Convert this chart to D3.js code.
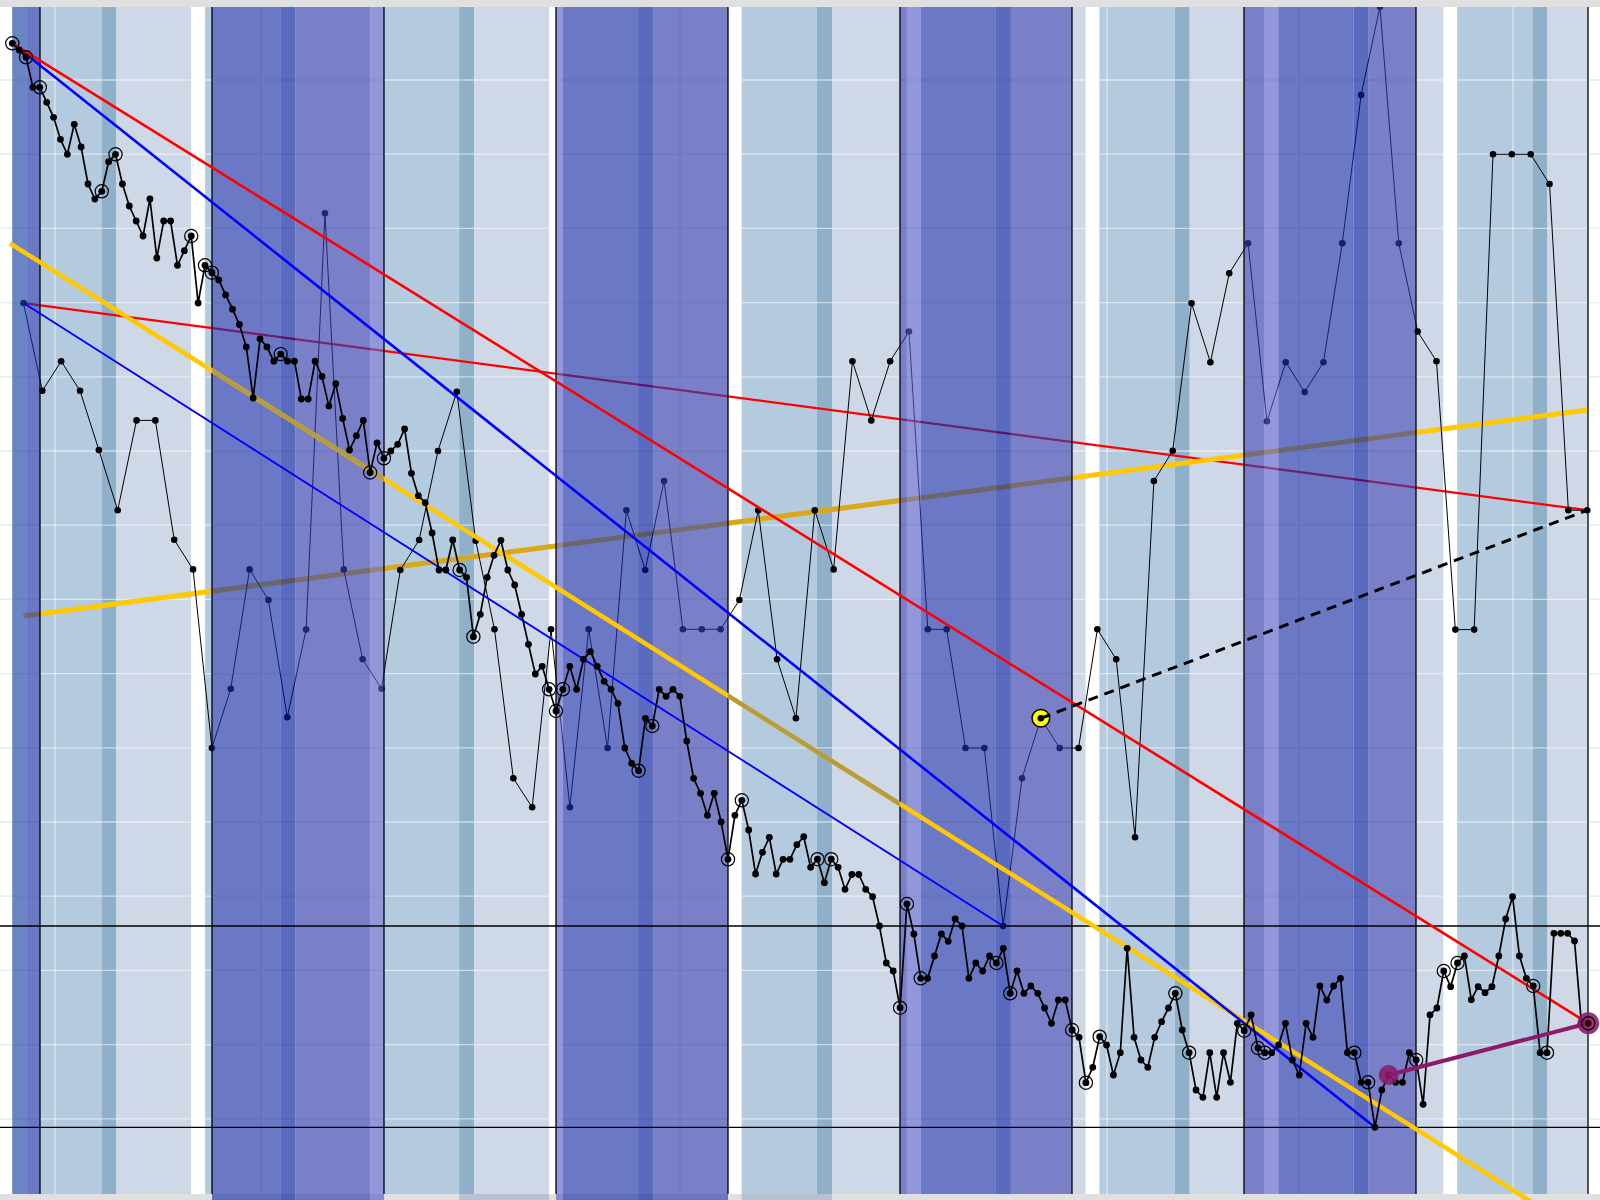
<!DOCTYPE html>
<html><head><meta charset="utf-8">
<script src="https://cdn.jsdelivr.net/npm/d3@7"></script>
<style>html,body{margin:0;padding:0;background:#fff;} svg{display:block;}</style>
</head><body>
<svg id="chart" width="1600" height="1200"></svg>
<script>
// ---------------- DATA ----------------
// main (hourly-like) price series, one value per bar
const mainValues = [
1156.7,1150,1142.7,1112.7,1112.7,1097.7,1082.7,1060.7,1045.7,1075.7,
1053,1016,1001,1008.7,1038.3,1045.7,1016,994,979,964,
1001,942,979,979,934.7,949.3,964,897,934.7,927.3,
920,905.1,890.8,875.5,853.1,802,861.2,853.1,838.8,845.9,
838.8,838.8,801,801,838.8,823.5,793.9,816.3,781.6,750,
764.3,779.6,727.5,757.1,741.7,749,755.7,771,726.7,704.3,
697.3,667,630,630,660,630,622.7,563.3,585.7,622.7,
644.7,659.7,630,615,585.7,555.7,526,533.7,510.7,489,
510.7,533.7,510.7,540.7,548.3,533.7,518.7,510.7,496.7,452,
436.7,429.3,481.7,474,510.7,503.7,510.7,503.7,459,421.7,
406.7,384.7,406.7,378,340.7,384.7,399.7,370,326,347.7,
362.7,326,340.7,340.7,355.3,363.3,332.7,340.8,317.3,340.8,
332.7,310.7,325.5,325.5,310.7,303.3,274,237,229,192.3,
296,266,221.7,221.7,244,266,258.7,281,274,221.7,
237,229,244,237,251.7,206.7,229,206.7,214,206.7,
192,176.7,200,200,170,162.7,117.3,132.7,163.3,155,
125,147.3,251.7,162.7,140,132.7,162.7,178.3,192,206.7,
170,147.3,110,102.7,147.3,102.7,147.3,117.7,176.7,169.3,
185,152,147.3,147.3,155,176.7,140,125,176.7,162.7,
214,200,214,221.7,147.3,147.3,117.7,117.7,72.7,110,
125,117.7,117.7,147.3,140,95.7,185,192,229,213.3,
237,244,200.3,213.3,207.3,213.3,244,281,303.3,244,
221.7,214,147.3,147.3,266.7,266.7,266.7,259,176.7,176.7];
// bars of the main series that carry a ring marker
const mainRinged = [0,2,4,13,15,26,28,29,39,52,54,65,67,78,79,80,91,93,104,106,117,119,129,130,132,143,145,154,156,158,169,171,179,181,182,195,197,204,208,210,221,223,229];
// slower (higher time-frame) series
const thinValues = [
896.9,809.2,838.8,809.2,750,689.8,779.6,779.6,660.2,630.6,
452,511.2,630.6,600,482.7,570.4,986.7,630.6,540.8,511.2,
630,660,749,808.3,659.3,570.7,421.7,392.7,570.7,392.7,
570.7,452,689.7,630,719,570.7,570.7,570.7,600,689.8,
540.7,481.7,689.8,630.6,838.8,779.6,838.8,868.4,570.7,570.7,
452,452,274,421.7,481.7,452,452,570.7,540.7,362.7,
719,749.3,896.7,837.7,926.7,956.7,778.7,837.7,808,837.7,
956.7,1105,1193.3,956.7,868.4,838.8,570.4,570.4,1045.7,1045.7,
1045.7,1016,689.8,689.8];
// sampling of the two series (hours)
const mainStartHour = -3.865, mainStepHours = 0.96028;
const thinStartHour = -2.302, thinStepHours = 2.6288;
// horizontal support levels
const levelValues = [274, 72.7];
// grid
const gridValues = [1120,1045.8,971.6,897.4,823.2,749,674.8,600.6,526.4,452.2,378,303.8,229.6,155.4,81.2];
const gridHours = [2.09,30.84,89.3,148.88,175.67,205.53];
// days and sessions
const dayStartHours = [-24,0,24,48,72,96,120,144,168,192];
const dayKinds = ['edge','light','dark','light','dark','light','dark','light','dark','light'];
const dayExtendsBelow = [false,false,true,false,true,false,false,false,false,false];
const sessionKeys = ['A','overlap','B','gap'];
const sessionFrom = [0,10.5,12.6,23.05];
const sessionTo = [10.5,12.6,23.05,24.96];
const cycleFirstStart = -26.89, cycleLength = 24.96;
const plotHours = [-3.9, 216];
// light-session strips that also tint the bottom margin: [day start hour, session]
const bottomTinted = [[48,'overlap'],[48,'B'],[96,'A'],[96,'overlap']];
// trend lines (endpoints refer to series points)
const redThickIdx = [0, 229];     // main
const blueThickIdx = [0, 198];    // main
const purpleIdx = [200, 229];     // main
const blueThinIdx = [0, 52];      // thin
const redThinIdx = [0, 83];       // thin
const dashedIdx = [54, 83];       // thin
const risingYellowValues = [584, 790];      // at thin[0] / thin[83] times
const fallingYellowHours = [-4.186, 216.04];
const fallingYellowValues = [956.7, -37.6];
const oliveDaysFalling = [24, 96];
const dimDaysRising = [48, 96];

// ---------------- SCALES ----------------
const W = 1600, H = 1200, TOP = 7, BOTTOM = 1194;
const x = d3.scaleLinear().domain([0, 216]).range([40, 1588]);
const y = d3.scaleLinear().domain([0, 1200]).range([1200, 0]);

const mainPts = mainValues.map((v,i)=>({t: mainStartHour + i*mainStepHours, v, i}));
const thinPts = thinValues.map((v,j)=>({t: thinStartHour + j*thinStepHours, v, j}));

const palette = {
  light: {A:'#b4cbdf', overlap:'#90afc9', B:'#cfd8e6', gap:'#ffffff'},
  dark:  {A:'rgb(27,47,167)', overlap:'rgb(1,26,157)', B:'rgb(50,60,170)', gap:'rgb(87,95,200)'},
  edge:  {A:'rgb(27,47,167)', overlap:'rgb(1,26,157)', B:'rgb(50,60,170)', gap:'rgb(26,67,164)'}
};
const bands = [];
for (let k = 0; k < 11; k++) {
  const c = cycleFirstStart + k*cycleLength;
  sessionKeys.forEach((s, si) => {
    const a = c + sessionFrom[si], b = c + sessionTo[si];
    dayStartHours.forEach((d, di) => {
      const lo = Math.max(a, d, plotHours[0]), hi = Math.min(b, d+24, plotHours[1]);
      if (hi > lo) bands.push({t0: lo, t1: hi, day: d, kind: dayKinds[di], session: s, ext: dayExtendsBelow[di]});
    });
  });
}

const svg = d3.select('#chart');
const defs = svg.append('defs');

// background
svg.append('rect').attr('width', W).attr('height', H).attr('fill', '#e0e0e0');
svg.append('rect').attr('x', 0).attr('y', TOP).attr('width', W).attr('height', BOTTOM-TOP).attr('fill', '#ffffff');

function drawGrid(g, color, op, w) {
  g.selectAll('.h').data(gridValues).join('line').attr('class','h')
    .attr('x1', 0).attr('x2', W).attr('y1', d=>y(d)).attr('y2', d=>y(d))
    .attr('stroke', color).attr('stroke-opacity', op).attr('stroke-width', w);
  g.selectAll('.v').data(gridHours).join('line').attr('class','v')
    .attr('x1', d=>x(d)).attr('x2', d=>x(d)).attr('y1', TOP).attr('y2', BOTTOM)
    .attr('stroke', color).attr('stroke-opacity', op).attr('stroke-width', w);
}
drawGrid(svg.append('g'), '#d6d6d6', 1, 1.3);

// light-day session bands (opaque)
svg.append('g').selectAll('rect').data(bands.filter(b=>b.kind==='light')).join('rect')
  .attr('x', d=>x(d.t0)).attr('width', d=>x(d.t1)-x(d.t0))
  .attr('y', TOP).attr('height', BOTTOM-TOP)
  .attr('fill', d=>palette.light[d.session]);
// bottom-margin tint of some light strips
svg.append('g').selectAll('rect')
  .data(bands.filter(b=>b.kind==='light' && bottomTinted.some(p=>p[0]===b.day && p[1]===b.session))).join('rect')
  .attr('x', d=>x(d.t0)).attr('width', d=>x(d.t1)-x(d.t0))
  .attr('y', BOTTOM).attr('height', H-BOTTOM)
  .attr('fill', '#b8c0d2');

drawGrid(svg.append('g'), '#ffffff', 0.55, 1.3);

// lines below the dark bands
const lineGen = d3.line().x(d=>x(d.t)).y(d=>y(d.v));
svg.append('path').attr('d', lineGen([thinPts[redThinIdx[0]], thinPts[redThinIdx[1]]]))
  .attr('stroke', '#ff0000').attr('stroke-width', 2.2).attr('fill', 'none');
const risePts = [{t: thinPts[0].t, v: risingYellowValues[0]}, {t: thinPts[83].t, v: risingYellowValues[1]}];
svg.append('path').attr('d', lineGen(risePts))
  .attr('stroke', '#ffc800').attr('stroke-width', 5).attr('fill', 'none');
const clipR = defs.append('clipPath').attr('id', 'dimrise');
clipR.selectAll('rect').data(dimDaysRising).join('rect')
  .attr('x', d=>x(d)).attr('width', d=>x(d+24)-x(d)).attr('y', 0).attr('height', H);
svg.append('path').attr('d', lineGen(risePts)).attr('clip-path', 'url(#dimrise)')
  .attr('stroke', '#d6a820').attr('stroke-width', 5).attr('fill', 'none');

// thin series
svg.append('path').attr('d', lineGen(thinPts)).attr('stroke', '#000').attr('stroke-width', 1).attr('fill', 'none');
svg.append('g').selectAll('circle').data(thinPts).join('circle')
  .attr('cx', d=>x(d.t)).attr('cy', d=>y(d.v)).attr('r', 3.3).attr('fill', '#000');

// dark-day bands (translucent)
svg.append('g').selectAll('rect').data(bands.filter(b=>b.kind!=='light')).join('rect')
  .attr('x', d=>x(d.t0)).attr('width', d=>x(d.t1)-x(d.t0))
  .attr('y', TOP).attr('height', d=> (d.ext ? H : BOTTOM) - TOP)
  .attr('fill', d=>palette[d.kind][d.session]).attr('fill-opacity', 0.65);

// day separators
svg.append('g').selectAll('line').data(dayStartHours.slice(1).concat([216])).join('line')
  .attr('x1', d=>x(d)).attr('x2', d=>x(d)).attr('y1', TOP).attr('y2', BOTTOM)
  .attr('stroke', '#000').attr('stroke-width', 1.3);

// levels
svg.append('g').selectAll('line').data(levelValues).join('line')
  .attr('x1', 0).attr('x2', W).attr('y1', d=>y(d)).attr('y2', d=>y(d))
  .attr('stroke', '#000').attr('stroke-width', 1.3);

// falling yellow regression line
const fallPts = [{t: fallingYellowHours[0], v: fallingYellowValues[0]}, {t: fallingYellowHours[1], v: fallingYellowValues[1]}];
svg.append('path').attr('d', lineGen(fallPts)).attr('stroke', '#ffc800').attr('stroke-width', 4.5).attr('fill', 'none');
const clip = defs.append('clipPath').attr('id', 'olive');
clip.selectAll('rect').data(oliveDaysFalling).join('rect')
  .attr('x', d=>x(d)).attr('width', d=>x(d+24)-x(d)).attr('y', 0).attr('height', H);
svg.append('path').attr('d', lineGen(fallPts)).attr('clip-path', 'url(#olive)')
  .attr('stroke', '#b59d3e').attr('stroke-width', 4.5).attr('fill', 'none');

// trend lines
svg.append('path').attr('d', lineGen([thinPts[blueThinIdx[0]], thinPts[blueThinIdx[1]]]))
  .attr('stroke', '#0000ff').attr('stroke-width', 1.8).attr('fill', 'none');
svg.append('path').attr('d', lineGen([mainPts[blueThickIdx[0]], mainPts[blueThickIdx[1]]]))
  .attr('stroke', '#0000ff').attr('stroke-width', 2.6).attr('fill', 'none');
svg.append('path').attr('d', lineGen([mainPts[redThickIdx[0]], mainPts[redThickIdx[1]]]))
  .attr('stroke', '#ff0000').attr('stroke-width', 2.6).attr('fill', 'none');

// main series
svg.append('path').attr('d', lineGen(mainPts)).attr('stroke', '#000').attr('stroke-width', 1.7).attr('fill', 'none');
svg.append('g').selectAll('circle').data(mainPts).join('circle')
  .attr('cx', d=>x(d.t)).attr('cy', d=>y(d.v)).attr('r', 3.4).attr('fill', '#000');
svg.append('g').selectAll('circle').data(mainRinged.map(i=>mainPts[i])).join('circle')
  .attr('cx', d=>x(d.t)).attr('cy', d=>y(d.v)).attr('r', 6.6)
  .attr('fill', 'none').attr('stroke', '#000').attr('stroke-width', 1.2);

// purple segment
const pA = mainPts[purpleIdx[0]], pB = mainPts[purpleIdx[1]];
svg.append('path').attr('d', lineGen([pA, pB])).attr('stroke', '#8b1a6b').attr('stroke-width', 4).attr('fill', 'none');
svg.append('g').selectAll('circle').data([pA, pB]).join('circle')
  .attr('cx', d=>x(d.t)).attr('cy', d=>y(d.v)).attr('r', (d,i)=> i ? 11 : 10)
  .attr('fill', '#8b1a6b').attr('fill-opacity', 0.88);
svg.append('circle').attr('cx', x(pB.t)).attr('cy', y(pB.v)).attr('r', 6.6)
  .attr('fill', 'none').attr('stroke', '#000').attr('stroke-width', 1.2);
svg.append('circle').attr('cx', x(pB.t)).attr('cy', y(pB.v)).attr('r', 3.2).attr('fill', '#300');

// yellow marker and dashed projection
const pm = thinPts[dashedIdx[0]];
svg.append('circle').attr('cx', x(pm.t)).attr('cy', y(pm.v)).attr('r', 8.8)
  .attr('fill', '#ffff00').attr('stroke', '#000').attr('stroke-width', 1.5);
svg.append('circle').attr('cx', x(pm.t)).attr('cy', y(pm.v)).attr('r', 3.3).attr('fill', '#000');
svg.append('path').attr('d', lineGen([pm, thinPts[dashedIdx[1]]]))
  .attr('stroke', '#000').attr('stroke-width', 3).attr('stroke-dasharray', '10,7').attr('fill', 'none');

// top strip
svg.append('rect').attr('x', 0).attr('y', 0).attr('width', W).attr('height', TOP).attr('fill', '#e0e0e0');
</script>
</body></html>
